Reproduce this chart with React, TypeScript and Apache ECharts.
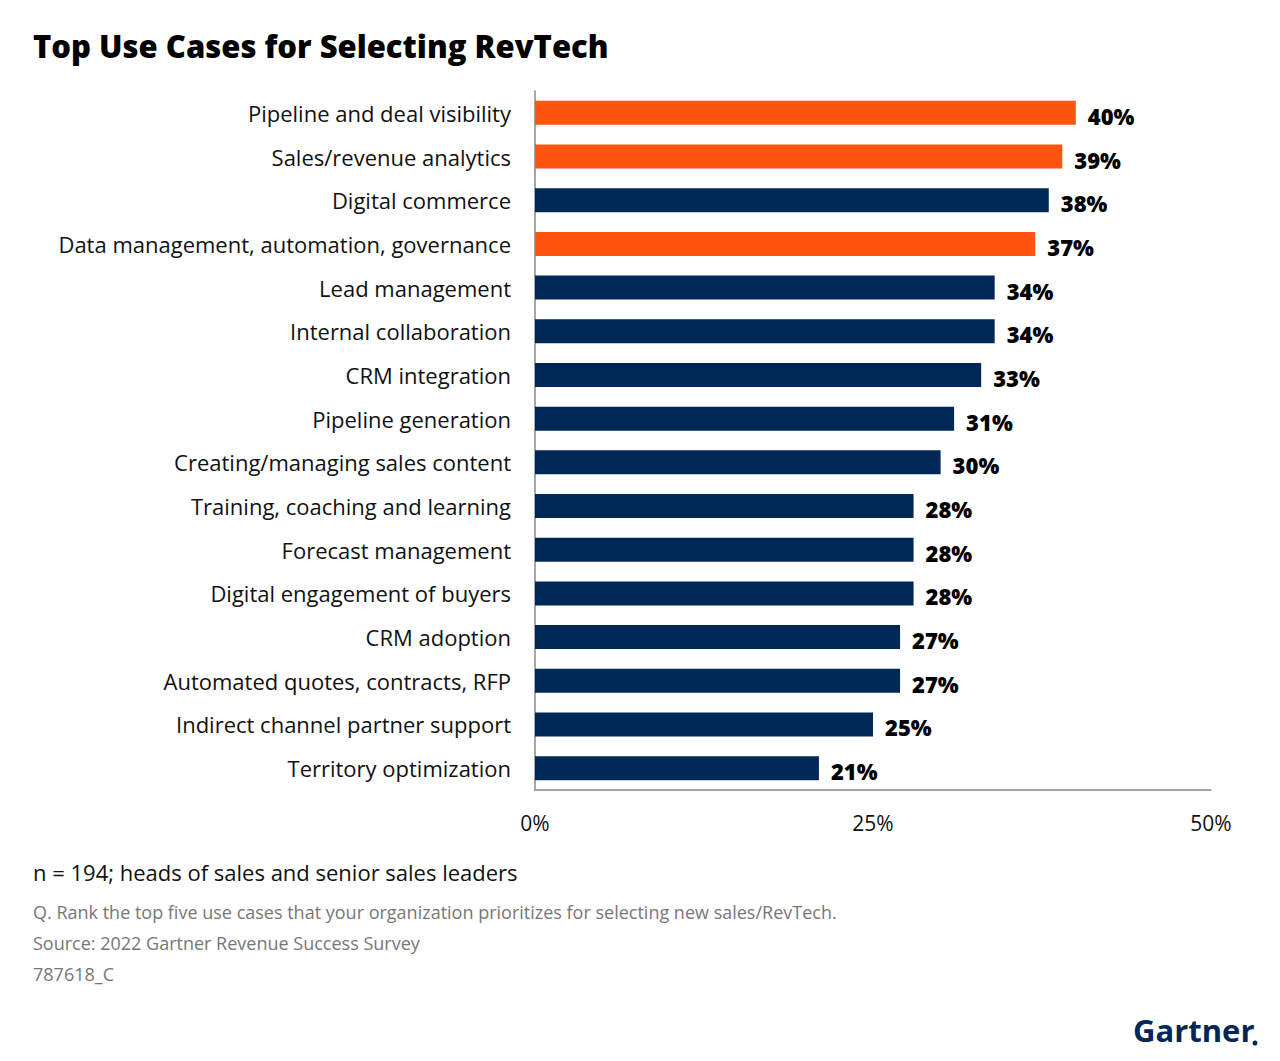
import React, { useEffect, useRef } from "react";
import * as echarts from "echarts";

const categories = [
  "Pipeline and deal visibility",
  "Sales/revenue analytics",
  "Digital commerce",
  "Data management, automation, governance",
  "Lead management",
  "Internal collaboration",
  "CRM integration",
  "Pipeline generation",
  "Creating/managing sales content",
  "Training, coaching and learning",
  "Forecast management",
  "Digital engagement of buyers",
  "CRM adoption",
  "Automated quotes, contracts, RFP",
  "Indirect channel partner support",
  "Territory optimization",
];
const values = [40, 39, 38, 37, 34, 34, 33, 31, 30, 28, 28, 28, 27, 27, 25, 21];
const highlighted = [true, true, false, true, false, false, false, false, false, false, false, false, false, false, false, false];
const xTicks = [0, 25, 50];

const titleText = "Top Use Cases for Selecting RevTech";
const sampleNote = "n = 194; heads of sales and senior sales leaders";
const questionNote = "Q. Rank the top five use cases that your organization prioritizes for selecting new sales/RevTech.";
const sourceNote = "Source: 2022 Gartner Revenue Success Survey";
const idNote = "787618_C";

const ORANGE = "#FF5511";
const NAVY = "#002856";
const FONT = "'Open Sans', Roboto, sans-serif";

export default function App() {
  const ref = useRef<HTMLDivElement>(null);
  useEffect(() => {
    if (!ref.current) return;
    const chart = echarts.init(ref.current, undefined, { renderer: "svg" });
    chart.setOption({
      animation: false,
      backgroundColor: "#ffffff",
      textStyle: { fontFamily: FONT },
      title: {
        text: titleText,
        left: 33,
        top: 30,
        padding: 0,
        textStyle: { fontSize: 31, fontWeight: 800, color: "#000", fontFamily: FONT },
      },
      grid: { left: 535, right: 69, top: 91, bottom: 271, containLabel: false },
      xAxis: {
        type: "value",
        min: xTicks[0],
        max: xTicks[xTicks.length - 1],
        interval: 25,
        axisLine: { show: true, lineStyle: { color: "#8a8a8a", width: 1.5 } },
        axisTick: { show: false },
        splitLine: { show: false },
        axisLabel: {
          formatter: "{value}%",
          fontSize: 21,
          color: "#111",
          margin: 22,
          fontFamily: FONT,
          hideOverlap: false,
        },
      },
      yAxis: {
        type: "category",
        data: categories,
        inverse: true,
        axisLine: { show: true, lineStyle: { color: "#8a8a8a", width: 1.5 } },
        axisTick: { show: false },
        axisLabel: { fontSize: 22, color: "#111", margin: 24, fontFamily: FONT, interval: 0 },
      },
      series: [
        {
          type: "bar",
          data: values.map((v, i) => ({
            value: v,
            itemStyle: { color: highlighted[i] ? ORANGE : NAVY },
          })),
          barWidth: 24,
          label: {
            show: true,
            position: "right",
            distance: 12,
            formatter: "{c}%",
            fontSize: 22,
            fontWeight: 800,
            color: "#000",
            fontFamily: FONT,
            offset: [0, 3],
          },
        },
      ],
      graphic: [
        {
          type: "text",
          left: 33,
          top: 861,
          style: { text: sampleNote, fontSize: 22, fill: "#111", fontFamily: FONT },
        },
        {
          type: "text",
          left: 33,
          top: 903,
          style: { text: questionNote, fontSize: 18, fill: "#777", fontFamily: FONT },
        },
        {
          type: "text",
          left: 33,
          top: 934,
          style: { text: sourceNote, fontSize: 18, fill: "#777", fontFamily: FONT },
        },
        {
          type: "text",
          left: 33,
          top: 965,
          style: { text: idNote, fontSize: 18, fill: "#777", fontFamily: FONT },
        },
        {
          type: "text",
          left: 1133,
          top: 1014,
          style: { text: "Gartner", fontSize: 31, fontWeight: 700, fill: NAVY, fontFamily: FONT },
        },
        {
          type: "circle",
          shape: { cx: 1255, cy: 1043, r: 2.5 },
          style: { fill: NAVY },
        },
      ],
    });
    return () => chart.dispose();
  }, []);
  return (
    <div
      ref={ref}
      style={{ position: "fixed", left: 0, top: 0, width: 1280, height: 1061, background: "#fff" }}
    />
  );
}
